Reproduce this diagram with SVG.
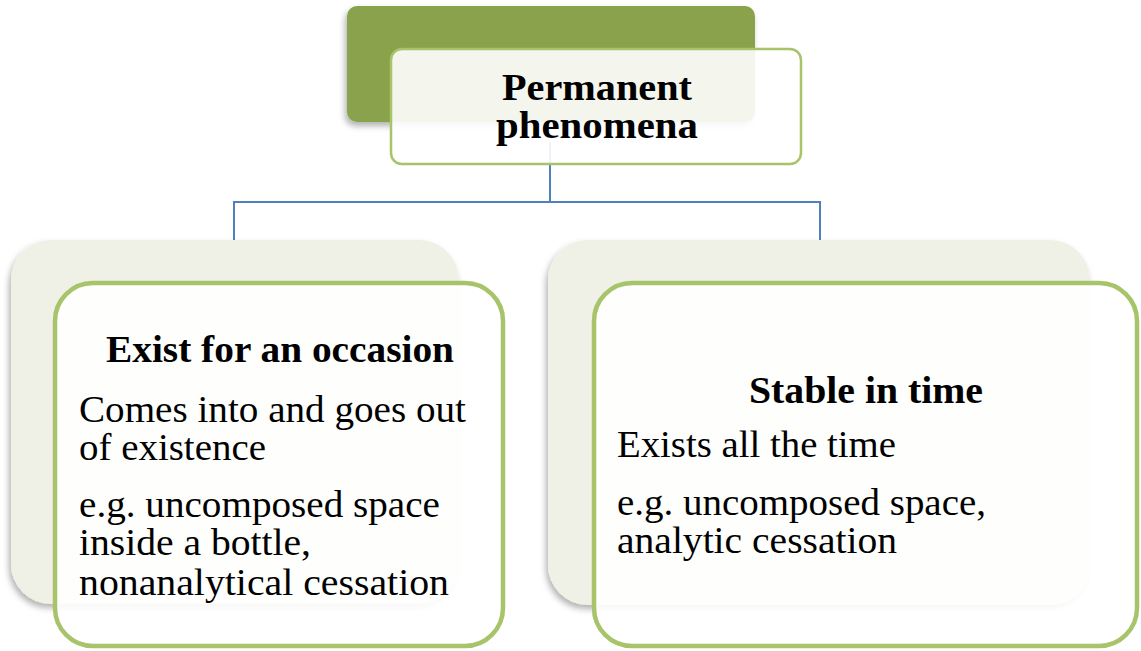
<svg xmlns="http://www.w3.org/2000/svg" width="1141" height="651" viewBox="0 0 1141 651">
  <defs>
    <filter id="shadow" x="-10%" y="-10%" width="120%" height="130%">
      <feDropShadow dx="-2" dy="4" stdDeviation="3" flood-color="#000" flood-opacity="0.3"/>
    </filter>
    <style>
      .back-dark { fill: #8aa24c; }
      .back-light { fill: #eff1e6; }
      .front { fill: #ffffff; fill-opacity: 0.9; stroke: #a7c46a; }
      .front-top { stroke-width: 2.5; }
      .front-child { stroke-width: 4.5; }
      .conn { fill: none; stroke: #4f81bd; stroke-width: 2; }
      .title { font-family: "Liberation Serif", "DejaVu Serif", serif; font-weight: bold; font-size: 37px; fill: #000; }
      .body { font-family: "Liberation Serif", "DejaVu Serif", serif; font-size: 38px; fill: #000; }
    </style>
  </defs>

  <!-- connectors: trunk from root, bar, and two drops -->
  <g id="connectors">
    <path class="conn" d="M550,142 V202 M234,202 H820 M234,201 V241 M820,201 V241"/>
  </g>

  <!-- root node -->
  <g id="node-root">
    <rect class="back-dark" x="347" y="6" width="408" height="116" rx="10" filter="url(#shadow)"/>
    <rect class="front front-top" x="391" y="49" width="410" height="115" rx="11"/>
    <text class="title" text-anchor="middle" x="597" y="100" textLength="190" lengthAdjust="spacingAndGlyphs">Permanent</text>
    <text class="title" text-anchor="middle" x="597" y="138" textLength="202" lengthAdjust="spacingAndGlyphs">phenomena</text>
  </g>

  <!-- left child -->
  <g id="node-occasion">
    <rect class="back-light" x="11" y="240" width="448" height="364" rx="40" filter="url(#shadow)"/>
    <rect class="front front-child" x="55" y="283" width="448" height="363" rx="38"/>
    <text class="title" x="106" y="362" textLength="348" lengthAdjust="spacingAndGlyphs">Exist for an occasion</text>
    <text class="body" x="79" y="422" textLength="387" lengthAdjust="spacingAndGlyphs">Comes into and goes out</text>
    <text class="body" x="79" y="460" textLength="187" lengthAdjust="spacingAndGlyphs">of existence</text>
    <text class="body" x="79" y="517" textLength="361" lengthAdjust="spacingAndGlyphs">e.g. uncomposed space</text>
    <text class="body" x="79" y="555" textLength="232" lengthAdjust="spacingAndGlyphs">inside a bottle,</text>
    <text class="body" x="79" y="595" textLength="370" lengthAdjust="spacingAndGlyphs">nonanalytical cessation</text>
  </g>

  <!-- right child -->
  <g id="node-stable">
    <rect class="back-light" x="548" y="240" width="542" height="365" rx="40" filter="url(#shadow)"/>
    <rect class="front front-child" x="594" y="283" width="543" height="363" rx="38"/>
    <text class="title" x="749" y="403" textLength="234" lengthAdjust="spacingAndGlyphs">Stable in time</text>
    <text class="body" x="617" y="457" textLength="279" lengthAdjust="spacingAndGlyphs">Exists all the time</text>
    <text class="body" x="617" y="515" textLength="369" lengthAdjust="spacingAndGlyphs">e.g. uncomposed space,</text>
    <text class="body" x="617" y="553" textLength="280" lengthAdjust="spacingAndGlyphs">analytic cessation</text>
  </g>
</svg>
